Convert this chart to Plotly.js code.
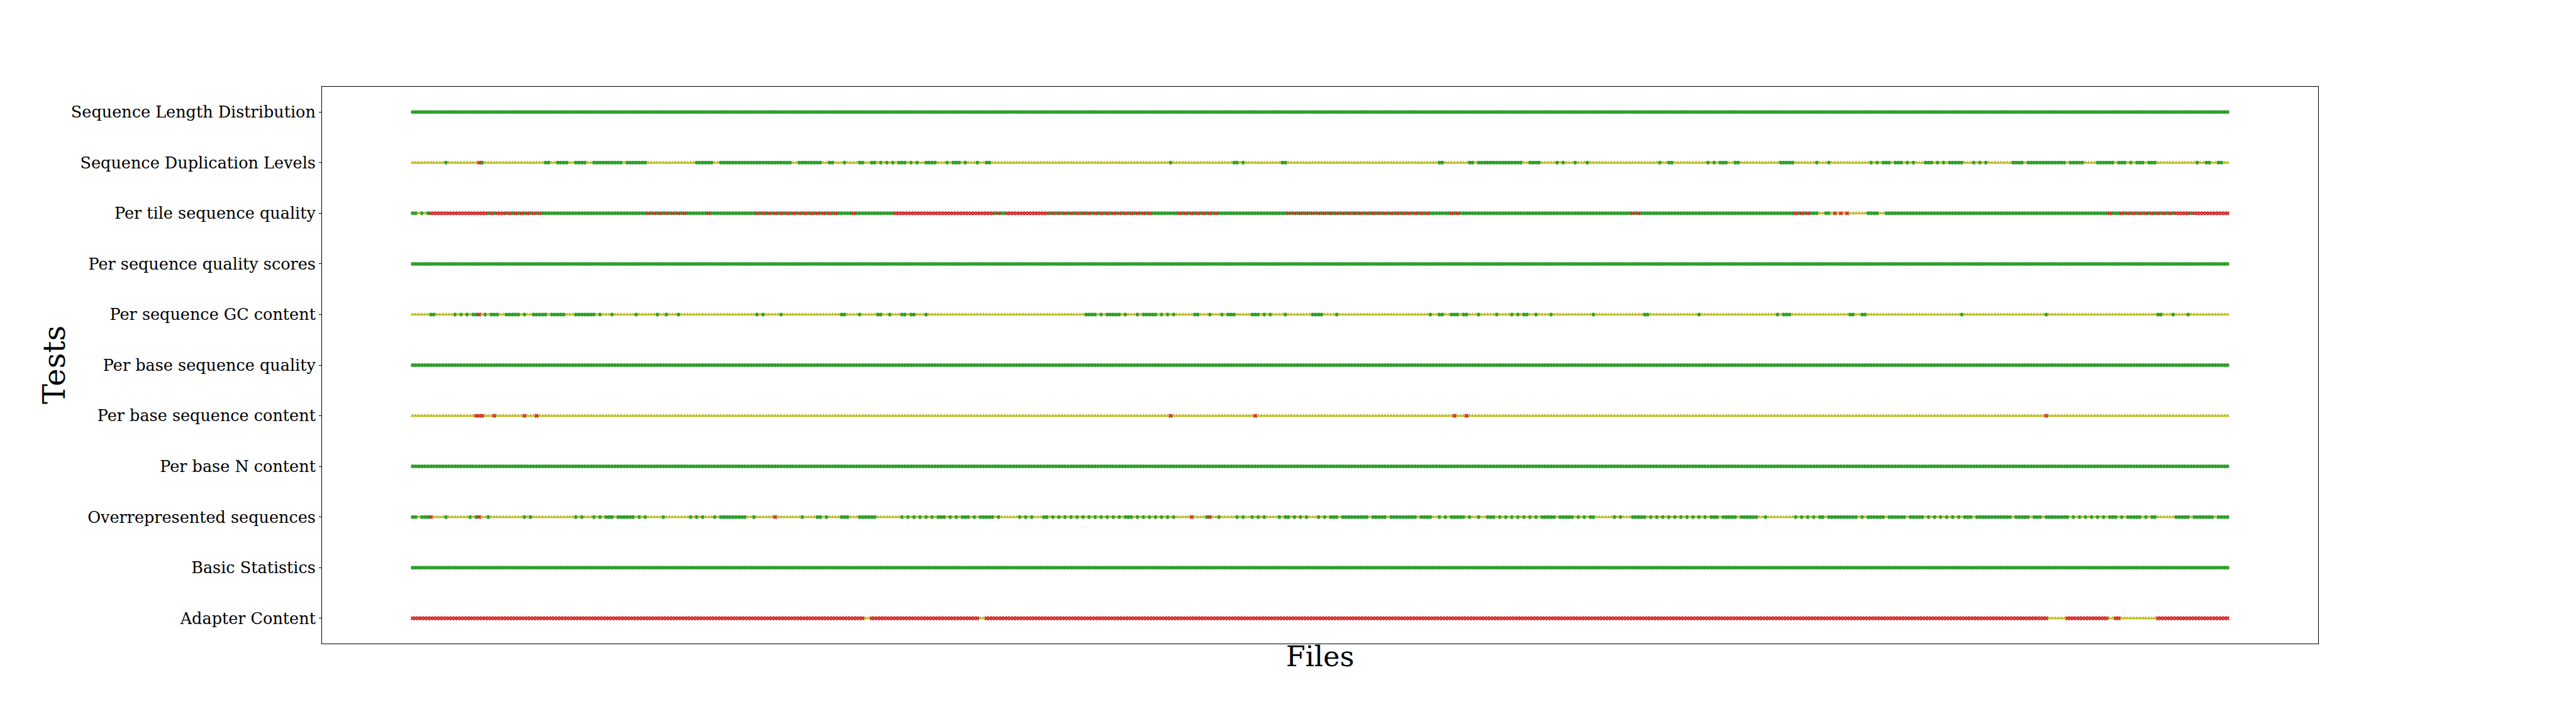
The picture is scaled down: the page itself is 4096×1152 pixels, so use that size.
<!DOCTYPE html>
<html>
<head>
<meta charset="utf-8">
<script src="https://cdn.plot.ly/plotly-3.0.1.min.js"></script>
<style>
html, body { margin: 0; padding: 0; background: #ffffff; }
#chart { width: 4096px; height: 1152px; }
</style>
</head>
<body>
<div id="chart"></div>
<script>
// Test names, top to bottom as shown on the y axis
const tests = [
  "Sequence Length Distribution",
  "Sequence Duplication Levels",
  "Per tile sequence quality",
  "Per sequence quality scores",
  "Per sequence GC content",
  "Per base sequence quality",
  "Per base sequence content",
  "Per base N content",
  "Overrepresented sequences",
  "Basic Statistics",
  "Adapter Content"
];

// Per-file status of each test, run-length encoded left to right over the files
// P = pass, W = warn, F = fail
const runsSequenceLengthDistribution = "P602";
const runsSequenceDuplicationLevels =
  "W11 P1 W10 F1 P1 W20 P2 W2 P4 W2 P4 W2 P10 W1 P7 W16 P6 W2 P24 W2 P8 W2 P2 W3 P1 W4 P2 " +
  "W2 P2 W1 P1 W1 P1 W1 P1 W1 P3 W1 P1 W1 P1 W2 P4 W3 P1 W1 P3 W1 P1 W3 P1 W2 P2 W59 P1 W20 " +
  "P2 W1 P1 W12 P2 W50 P2 W8 P2 W1 P15 W2 P4 W5 P1 W1 P1 W3 P1 W3 P1 W23 P1 W2 P2 W11 P1 W1 " +
  "P1 W1 P3 W2 P2 W13 P5 W7 P1 W3 P1 W13 P1 W1 P1 W1 P3 W1 P3 W1 P1 W1 P1 W3 P3 W1 P1 W1 P1 " +
  "W1 P5 W3 P1 W1 P1 W1 P1 W8 P4 W1 P13 W1 P5 W4 P6 W1 P3 W1 P1 W1 P3 W1 P3 W13 P1 W2 P2 W2 P2 W2";
const runsPerTileSequenceQuality =
  "P2 W1 P1 W1 P1 F19 P1 F1 P1 F3 P1 F1 P1 F1 P1 F1 P1 F1 P1 F1 P1 F1 P35 " +
  "F1 P1 F1 P1 F1 P1 F1 P1 F1 P1 F1 P1 F1 P7 F1 P15 " +
  "F1 P1 F1 P1 F1 P1 F1 P1 F1 P1 F1 P1 F1 P1 F1 P1 F1 P1 F1 P1 F1 P1 F1 P1 F1 P1 F1 " +
  "P5 F1 P13 F33 P1 F1 P2 F14 " +
  "P1 F1 P1 F1 P1 F1 P1 F1 P1 F1 P1 F1 P1 F1 P1 F1 P1 F1 P1 F1 P1 F1 P1 F1 P1 F1 P1 F1 P1 F1 P1 F1 P1 F1 " +
  "P9 F1 P1 F1 P1 F1 P1 F1 P1 F1 P1 F1 P1 F1 P23 " +
  "F1 P1 F1 P1 F1 P1 F1 P1 F1 P1 F1 P1 F1 P1 F1 P1 F1 P1 F1 P1 F1 P1 F1 P1 F1 P1 F1 P1 F1 P1 F1 P1 " +
  "F1 P1 F1 P1 F1 P1 F1 P1 F1 P1 F1 P1 F1 P1 F1 " +
  "P7 F1 P1 F1 P57 F1 P1 F1 P51 F1 P1 F1 P1 F1 P3 W2 P2 W1 F1 W1 F1 W1 F1 W6 P4 W2 P74 F1 P3 " +
  "F1 P1 F1 P1 F1 P1 F1 P1 F1 P1 F1 P1 F1 P1 F1 P1 F1 P1 F5 P1 F12";
const runsPerSequenceQualityScores = "P602";
const runsPerSequenceGCContent =
  "W6 P2 W6 P1 W1 P1 W1 P1 W1 P2 F1 W1 P1 W1 P3 W2 P5 W1 P1 W2 P5 W1 P5 W3 P7 W1 P1 W3 P1 W7 " +
  "P1 W6 P1 W2 P1 W3 P1 W25 P1 W1 P1 W5 P1 W19 P2 W4 P1 W5 P2 W2 P1 W3 P2 W1 P2 W3 P1 W52 P4 " +
  "W1 P1 W1 P5 W1 P1 W3 P1 W1 P5 W1 P1 W1 P1 W1 P1 W6 P2 W3 P1 W3 P1 W1 P3 W5 P3 W1 P1 W1 P1 " +
  "W4 P1 W8 P4 W4 P1 W30 P1 W2 P2 W2 P3 W1 P2 W3 P1 W5 P1 W4 P1 W1 P1 W1 P2 W2 P1 W4 P1 W13 " +
  "P1 W16 P2 W16 P1 W25 P1 W1 P3 W19 P2 W2 P2 W31 P1 W27 P1 W36 P2 W3 P1 W4 P1 W13";
const runsPerBaseSequenceQuality = "P602";
const runsPerBaseSequenceContent =
  "W21 F3 W3 F1 W9 F1 W3 F1 W209 F1 W27 F1 W65 F1 W3 F1 W191 F1 W60";
const runsPerBaseNContent = "P602";
const runsOverrepresentedSequences =
  "P2 W1 P3 F1 W4 P1 W7 P1 W1 P1 F1 W2 P1 W11 P1 W1 P1 W14 P1 W1 P1 W3 P1 W1 P1 W1 P3 W1 P6 " +
  "W1 P1 W1 P1 W5 P1 W8 P1 W1 P1 W1 P1 W3 P1 W1 P9 W2 P1 W6 F1 W8 P1 W4 P2 W1 P1 W4 P3 W3 P2 " +
  "P4 W8 P1 W1 P1 W1 P1 W1 P1 W1 P1 W1 P1 W1 P3 W1 P1 W1 P1 W1 P3 W1 P1 W1 P5 W1 P1 W6 P1 W1 " +
  "P1 W1 P1 W3 P2 " +
  "W1 P1 W1 P1 W1 P1 W1 P1 W1 P1 W1 P1 W1 P1 W1 P1 W1 P1 W1 P1 W1 P1 W1 P1 W1 " +
  "P3 W1 P1 W1 P1 W1 P1 W1 P1 W1 P1 W1 P1 W1 P1 " +
  "W5 F1 W4 P1 F1 W2 P1 W5 P1 W1 P1 W2 P1 W1 P1 W1 P1 W4 P1 W1 P2 W1 P1 W1 P1 W1 P1 W3 " +
  "P1 W1 P1 W1 P3 W1 P9 W1 P5 W1 P9 W1 P4 W2 P1 W1 P1 W1 P5 W1 P1 W2 P1 W2 P3 " +
  "W1 P1 W1 P1 W1 P1 W1 P1 W1 P1 W1 P1 W1 P1 W1 " +
  "P5 W1 P5 W1 P1 W1 P1 W1 P2 W6 P1 W1 P1 W3 P5 " +
  "W1 P1 W1 P1 W1 P1 W1 P1 W1 P1 W1 P1 W1 P1 W1 P1 W1 P1 W1 P1 W1 " +
  "P3 W1 P5 W1 P6 W2 P1 W9 P1 W1 P1 W1 P1 W1 P1 W1 P2 W1 P10 W1 P1 W1 P6 W1 P6 W1 P5 " +
  "W1 P1 W1 P1 W1 P1 W1 P1 W1 P1 W1 P1 W1 " +
  "P3 W1 P12 W1 P5 W1 P3 W1 P8 " +
  "W1 P1 W1 P1 W1 P1 W1 P1 W1 P1 W1 P1 W1 " +
  "P3 W1 P1 W1 P5 W1 P1 W1 P2 W6 P5 W1 P7 W1 P4";
const runsBasicStatistics = "P602";
const runsAdapterContent = "F150 W2 F36 W2 F352 W6 F14 W2 F2 W12 F24";

const testRuns = [
  runsSequenceLengthDistribution,
  runsSequenceDuplicationLevels,
  runsPerTileSequenceQuality,
  runsPerSequenceQualityScores,
  runsPerSequenceGCContent,
  runsPerBaseSequenceQuality,
  runsPerBaseSequenceContent,
  runsPerBaseNContent,
  runsOverrepresentedSequences,
  runsBasicStatistics,
  runsAdapterContent
];

const statusKeys = ["P", "W", "F"];
const statusNames = { P: "PASS", W: "WARN", F: "FAIL" };
const statusColors = { P: "#2ca02c", W: "#bcbd22", F: "#d62728" };
const statusSymbols = { P: "circle", W: "triangle-up", F: "x" };
const statusSizes = { P: 6, W: 6.5, F: 6 };

function expandRuns(runs) {
  const out = [];
  runs.trim().split(/\s+/).forEach(tok => {
    const s = tok[0];
    const n = parseInt(tok.slice(1), 10);
    for (let i = 0; i < n; i++) out.push(s);
  });
  return out;
}

const expanded = testRuns.map(expandRuns);
const nFiles = Math.max(...expanded.map(a => a.length));

const pts = { P: { x: [], y: [] }, W: { x: [], y: [] }, F: { x: [], y: [] } };
expanded.forEach((arr, k) => {
  const yv = tests.length - 1 - k;
  arr.forEach((s, i) => {
    pts[s].x.push(i);
    pts[s].y.push(yv);
  });
});

const traces = statusKeys.map(s => ({
  type: "scatter",
  mode: "markers",
  name: statusNames[s],
  x: pts[s].x,
  y: pts[s].y,
  marker: {
    symbol: statusSymbols[s],
    color: statusColors[s],
    size: statusSizes[s],
    line: { width: 0 }
  },
  hoverinfo: "skip"
}));

const span = nFiles - 1;
const fontFamily = "DejaVu Serif, serif";
const plotLeft = 512, plotWidth = 4096 - 512 - 410;

const layout = {
  width: 4096,
  height: 1152,
  margin: { l: plotLeft, r: 410, t: 138, b: 128, pad: 0 },
  paper_bgcolor: "#ffffff",
  plot_bgcolor: "#ffffff",
  showlegend: false,
  font: { family: fontFamily, color: "#000000" },
  xaxis: {
    range: [-0.05 * span, span * 1.05],
    showticklabels: false,
    ticks: "",
    showgrid: false,
    zeroline: false,
    showline: true,
    mirror: true,
    linecolor: "#000000",
    linewidth: 1,
    title: { text: "Files", font: { family: fontFamily, size: 44.5, color: "#000000" }, standoff: 4 }
  },
  yaxis: {
    range: [-0.5, tests.length - 0.5],
    tickvals: tests.map((t, k) => tests.length - 1 - k),
    ticktext: tests,
    tickfont: { family: fontFamily, size: 25.5, color: "#000000" },
    ticks: "outside",
    ticklen: 4,
    tickwidth: 1,
    tickcolor: "#000000",
    showgrid: false,
    zeroline: false,
    showline: true,
    mirror: true,
    linecolor: "#000000",
    linewidth: 1
  },
  annotations: [{
    text: "Tests",
    xref: "paper", yref: "paper",
    x: (86 - plotLeft) / plotWidth, y: 0.5,
    xanchor: "center", yanchor: "middle",
    textangle: -90,
    showarrow: false,
    font: { family: fontFamily, size: 48, color: "#000000" }
  }]
};

Plotly.newPlot("chart", traces, layout, { displayModeBar: false, staticPlot: true });
</script>
</body>
</html>
